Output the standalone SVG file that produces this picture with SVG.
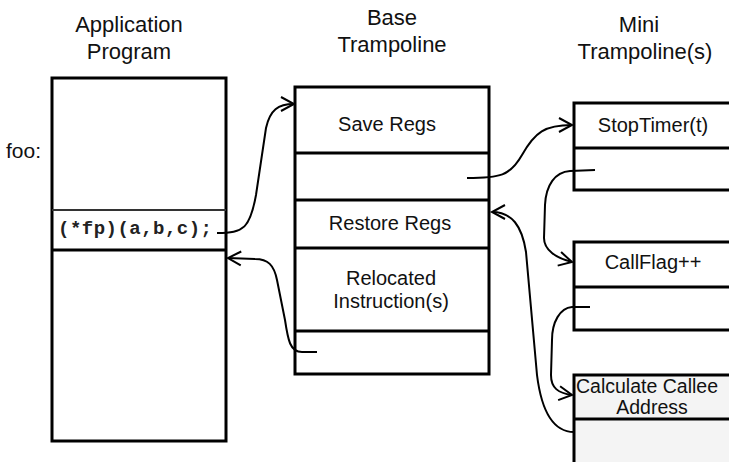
<svg xmlns="http://www.w3.org/2000/svg" width="729" height="462" viewBox="0 0 729 462">
<defs>
<style>
.box{fill:#fff;stroke:#000;stroke-width:3}
.div{stroke:#000;stroke-width:3}
.hdr{font-family:"Liberation Sans",Arial,sans-serif;font-size:22px;fill:#111;text-anchor:middle}
.lbl{font-family:"Liberation Sans",Arial,sans-serif;font-size:20px;fill:#111;text-anchor:middle}
.code{font-family:"Liberation Mono","Courier New",monospace;font-weight:bold;font-size:19px;fill:#222}
.con{fill:none;stroke:#000;stroke-width:2;marker-end:url(#arr)}
</style>
<marker id="arr" markerWidth="16" markerHeight="16" refX="14" refY="8" orient="auto" markerUnits="userSpaceOnUse" overflow="visible">
<path d="M1,1 L14,8 L1,15" fill="none" stroke="#000" stroke-width="2"/>
</marker>
</defs>
<rect width="729" height="462" fill="#fff"/>

<g id="headers">
<text class="hdr" x="129" y="32">Application</text>
<text class="hdr" x="129" y="59">Program</text>
<text class="hdr" x="392" y="25">Base</text>
<text class="hdr" x="392" y="52">Trampoline</text>
<text class="hdr" x="639" y="32">Mini</text>
<text class="hdr" x="645" y="59">Trampoline(s)</text>
</g>

<g id="app">
<rect class="box" x="52" y="78" width="174" height="363"/>
<line x1="52" y1="210" x2="226" y2="210" stroke="#333" stroke-width="2"/>
<line class="div" x1="52" y1="250" x2="226" y2="250"/>
<text x="6" y="158" font-family="Liberation Sans,Arial,sans-serif" font-size="21" fill="#111">foo:</text>
<text class="code" x="58" y="234" textLength="154" lengthAdjust="spacing">(*fp)(a,b,c);</text>
</g>

<g id="base">
<rect class="box" x="295" y="87" width="194" height="287"/>
<line class="div" x1="295" y1="153" x2="489" y2="153"/>
<line class="div" x1="295" y1="200" x2="489" y2="200"/>
<line class="div" x1="295" y1="248" x2="489" y2="248"/>
<line class="div" x1="295" y1="331" x2="489" y2="331"/>
<text class="lbl" x="387" y="131">Save Regs</text>
<text class="lbl" x="390" y="230">Restore Regs</text>
<text class="lbl" x="391" y="285">Relocated</text>
<text class="lbl" x="391" y="308">Instruction(s)</text>
</g>

<g id="mini1">
<rect class="box" x="574" y="103" width="170" height="87"/>
<line class="div" x1="574" y1="148" x2="744" y2="148"/>
<text class="lbl" x="653" y="132">StopTimer(t)</text>
</g>

<g id="mini2">
<rect class="box" x="574" y="242" width="170" height="88"/>
<line class="div" x1="574" y1="287" x2="744" y2="287"/>
<text class="lbl" x="653" y="269">CallFlag++</text>
</g>

<g id="mini3">
<rect x="574" y="375" width="170" height="100" fill="#f4f4f4" stroke="#000" stroke-width="3"/>
<line class="div" x1="574" y1="419" x2="744" y2="419"/>
<text class="lbl" x="576" y="393" style="text-anchor:start;font-size:19.5px">Calculate Callee</text>
<text class="lbl" x="652" y="414" style="font-size:19.5px">Address</text>
</g>

<g id="connectors">
<path class="con" d="M217,233 C244,233 250,228 256,195 L266,128 C270,110 278,104 294,104"/>
<path class="con" d="M467,178 C500,178 510,176 522,155 C535,132 545,125 572,125"/>
<path class="con" d="M595,170 L570,171 C555,172 546,185 545,205 L544,238 C544,250 556,258 572,262"/>
<path class="con" d="M590,307 L572,307 C560,308 552,322 552,340 L551,375 C551,388 558,393 572,395"/>
<path class="con" d="M574,432 C555,432 542,415 537,375 L526,252 C522,226 512,212 492,212"/>
<path class="con" d="M317,352 L302,352 C290,352 288,340 285,320 L277,280 C274,265 268,259 255,259 L228,258"/>
</g>
</svg>
